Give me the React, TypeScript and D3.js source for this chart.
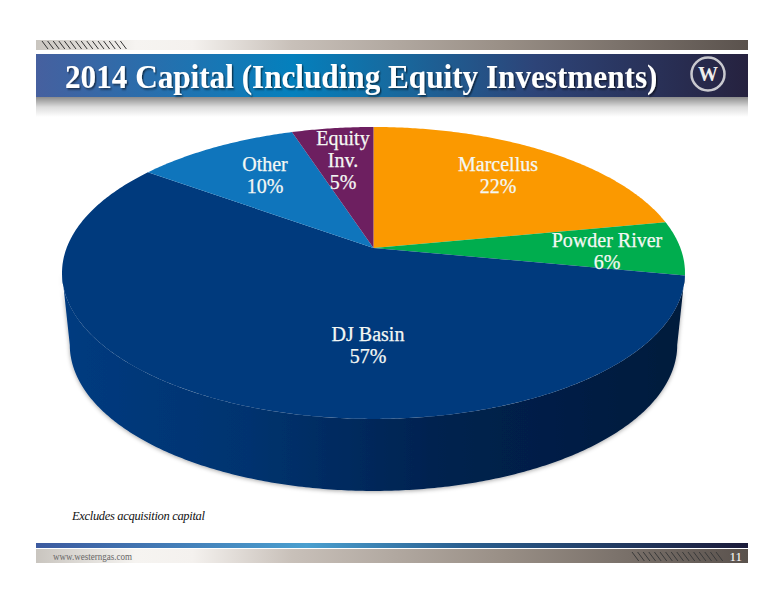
import React from "react";
import * as d3 from "d3";

const categories = ["Marcellus", "Powder River", "DJ Basin", "Other", "Equity Inv."];
const values = [22, 6, 57, 10, 5];
const colors = ["#fb9900", "#00ad4e", "#003a7d", "#0f75bc", "#6d1f60"];
const labelLines = [["Marcellus", "22%"], ["Powder River", "6%"], ["DJ Basin", "57%"], ["Other", "10%"], ["Equity", "Inv.", "5%"]];
const labelCentres = [[498, 176], [607, 252], [368, 346], [265, 176], [343, 161]];
const title = "2014 Capital (Including Equity Investments)";
const footnote = "Excludes acquisition capital";
const site = "www.westerngas.com";
const pageNo = "11";

const W = 776, H = 600;
const apex = { x: 373.5, y: 248 };
const topRx = 306.9, topRy = 141.7, persp = 0.171;
const depth = 72, baseScale = 0.975;
const serif = "'Liberation Serif', serif";

function project(angle: number, scale = 1, dy = 0): [number, number] {
  const u = Math.sin(angle), v = -Math.cos(angle);
  const w = 1 - persp * v;
  return [apex.x + (topRx * scale * u) / w, apex.y + dy + (topRy * v) / w];
}

const pieGen = d3.pie<number>().sort(null).startAngle(0).endAngle(2 * Math.PI);
const arcs = pieGen(values);
const line = d3.line();

function sweep(a0: number, a1: number) {
  const n = Math.max(2, Math.ceil(Math.abs(a1 - a0) / 0.01));
  return d3.range(n + 1).map((i) => a0 + ((a1 - a0) * i) / n);
}

const slicePaths = arcs.map((a) => line([[apex.x, apex.y], ...sweep(a.startAngle, a.endAngle).map((t) => project(t))])! + "Z");

// The visible wall runs between the two points where the rim is widest.
const rimRight = Math.acos(-persp);
const sideAngles = sweep(rimRight, 2 * Math.PI - rimRight);
const sidePath =
  line([
    ...sideAngles.map((t) => project(t)),
    ...sideAngles.slice().reverse().map((t) => project(t, baseScale, depth)),
  ])! + "Z";

function Hatch({ x0, x1, y0, y1, color }: { x0: number; x1: number; y0: number; y1: number; color: string }) {
  const step = 5.6;
  return (
    <g stroke={color} strokeWidth={1} fill="none">
      {d3.range(x0, x1, step).map((x) => (
        <line key={x} x1={x} y1={y0} x2={x + (y1 - y0) * 0.75} y2={y1} />
      ))}
    </g>
  );
}

export default function App() {
  return (
    <svg width={W} height={H} viewBox={`0 0 ${W} ${H}`} style={{ position: "absolute", left: 0, top: 0, display: "block", background: "#fff" }}>
      <defs>
        <linearGradient id="grayBar" x1="0" x2="1" y1="0" y2="0">
          <stop offset="0" stopColor="#c9c5bf" />
          <stop offset="0.14" stopColor="#f6f4f1" />
          <stop offset="0.22" stopColor="#f4f1ee" />
          <stop offset="0.36" stopColor="#c8c0b9" />
          <stop offset="0.65" stopColor="#9a9087" />
          <stop offset="1" stopColor="#5a524d" />
        </linearGradient>
        <linearGradient id="titleBar" x1="0" x2="1" y1="0" y2="0">
          <stop offset="0" stopColor="#46609f" />
          <stop offset="0.36" stopColor="#0480bd" />
          <stop offset="0.5" stopColor="#176a9f" />
          <stop offset="0.7" stopColor="#2d4478" />
          <stop offset="1" stopColor="#26223f" />
        </linearGradient>
        <linearGradient id="footBar" x1="0" x2="1" y1="0" y2="0">
          <stop offset="0" stopColor="#3c5a9f" />
          <stop offset="0.38" stopColor="#4a9fcf" />
          <stop offset="0.6" stopColor="#2a5f90" />
          <stop offset="1" stopColor="#1b1b3a" />
        </linearGradient>
        <linearGradient id="titleShadow" x1="0" x2="0" y1="0" y2="1">
          <stop offset="0" stopColor="#8c8c8c" />
          <stop offset="0.5" stopColor="#dcdcdc" />
          <stop offset="1" stopColor="#ffffff" />
        </linearGradient>
        <linearGradient id="side" gradientUnits="userSpaceOnUse" x1="62" x2="685" y1="0" y2="0">
          <stop offset="0" stopColor="#003b80" />
          <stop offset="0.3" stopColor="#00336f" />
          <stop offset="0.6" stopColor="#00224f" />
          <stop offset="1" stopColor="#001a3c" />
        </linearGradient>
        <filter id="soft" x="-10%" y="-10%" width="120%" height="120%">
          <feDropShadow dx="0" dy="1" stdDeviation="2" floodColor="#000" floodOpacity="0.35" />
        </filter>
        <filter id="titleGlow" x="-5%" y="-20%" width="110%" height="140%">
          <feDropShadow dx="1.5" dy="1.5" stdDeviation="0.8" floodColor="#000" floodOpacity="0.55" />
        </filter>
      </defs>

      <rect x={36} y={40} width={712} height={10} fill="url(#grayBar)" />
      <Hatch x0={42} x1={124} y0={41} y1={49} color="#333" />
      <rect x={36} y={97} width={712} height={20} fill="url(#titleShadow)" />
      <rect x={36} y={54} width={712} height={43} fill="url(#titleBar)" />
      <g transform="translate(65,88) scale(0.945,1)">
        <text x={0} y={0} fontFamily={serif} fontWeight="bold" fontSize={33} fill="#fff" filter="url(#titleGlow)">
          {title}
        </text>
      </g>
      <circle cx={708} cy={74} r={16.5} fill="none" stroke="#c9c9cf" strokeWidth={2.5} />
      <text x={708} y={81} fontFamily={serif} fontWeight="bold" fontSize={20} fill="#eee" textAnchor="middle">W</text>

      <path d={sidePath} fill="url(#side)" filter="url(#soft)" />
      {slicePaths.map((d, i) => (
        <path key={categories[i]} d={d} fill={colors[i]} />
      ))}

      {labelLines.map((lines, i) => {
        const lh = 22;
        const y0 = labelCentres[i][1] - ((lines.length - 1) * lh) / 2 + 6;
        return (
          <g key={categories[i]}>
            {lines.map((l, j) => (
              <text key={j} x={labelCentres[i][0]} y={y0 + j * lh} fontFamily={serif} fontSize={20} fill="#f4f8f4" stroke="#f4f8f4" strokeWidth={0.25} textAnchor="middle">
                {l}
              </text>
            ))}
          </g>
        );
      })}

      <text x={72} y={520} fontFamily={serif} fontStyle="italic" fontSize={12.5} fill="#111" textLength={133} lengthAdjust="spacing">
        {footnote}
      </text>

      <rect x={36} y={543} width={712} height={5} fill="url(#footBar)" />
      <rect x={36} y={549} width={712} height={14} fill="url(#grayBar)" />
      <text x={53} y={560} fontFamily={serif} fontSize={9.5} fill="#666" textLength={79} lengthAdjust="spacingAndGlyphs">{site}</text>
      <Hatch x0={632} x1={716} y0={552} y1={561} color="#3a3a3a" />
      <text x={742} y={561} fontFamily={serif} fontSize={13} fill="#fff" textAnchor="end">{pageNo}</text>
    </svg>
  );
}
